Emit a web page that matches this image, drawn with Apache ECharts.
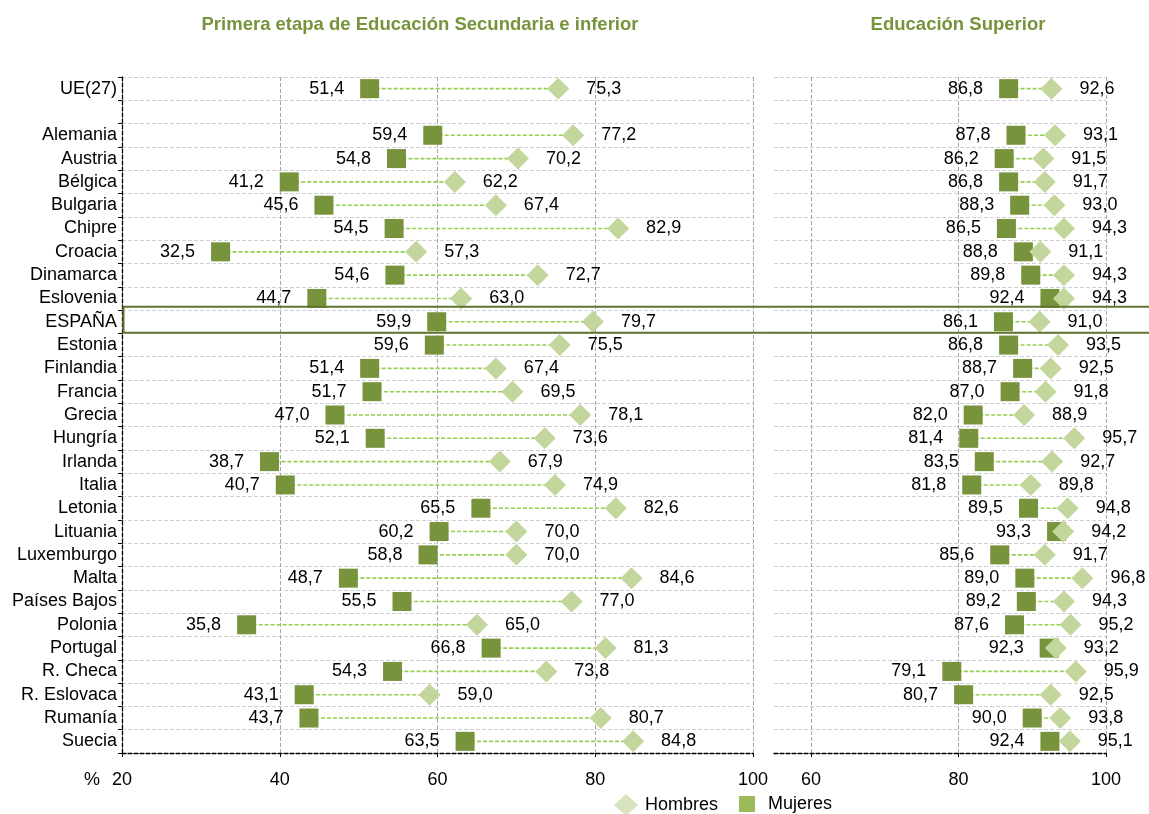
<!DOCTYPE html>
<html><head><meta charset="utf-8">
<script src="https://cdn.jsdelivr.net/npm/echarts@6/dist/echarts.min.js"></script>
<style>html,body{margin:0;padding:0;background:#fff}#c{width:1149px;height:814px}</style>
</head><body><div id="c"></div>
<script>
const categories = ['UE(27)', '', 'Alemania', 'Austria', 'Bélgica', 'Bulgaria', 'Chipre', 'Croacia', 'Dinamarca', 'Eslovenia', 'ESPAÑA', 'Estonia', 'Finlandia', 'Francia', 'Grecia', 'Hungría', 'Irlanda', 'Italia', 'Letonia', 'Lituania', 'Luxemburgo', 'Malta', 'Países Bajos', 'Polonia', 'Portugal', 'R. Checa', 'R. Eslovaca', 'Rumanía', 'Suecia'];
const basicMujeres = [51.4, null, 59.4, 54.8, 41.2, 45.6, 54.5, 32.5, 54.6, 44.7, 59.9, 59.6, 51.4, 51.7, 47.0, 52.1, 38.7, 40.7, 65.5, 60.2, 58.8, 48.7, 55.5, 35.8, 66.8, 54.3, 43.1, 43.7, 63.5];
const basicHombres = [75.3, null, 77.2, 70.2, 62.2, 67.4, 82.9, 57.3, 72.7, 63.0, 79.7, 75.5, 67.4, 69.5, 78.1, 73.6, 67.9, 74.9, 82.6, 70.0, 70.0, 84.6, 77.0, 65.0, 81.3, 73.8, 59.0, 80.7, 84.8];
const superiorMujeres = [86.8, null, 87.8, 86.2, 86.8, 88.3, 86.5, 88.8, 89.8, 92.4, 86.1, 86.8, 88.7, 87.0, 82.0, 81.4, 83.5, 81.8, 89.5, 93.3, 85.6, 89.0, 89.2, 87.6, 92.3, 79.1, 80.7, 90.0, 92.4];
const superiorHombres = [92.6, null, 93.1, 91.5, 91.7, 93.0, 94.3, 91.1, 94.3, 94.3, 91.0, 93.5, 92.5, 91.8, 88.9, 95.7, 92.7, 89.8, 94.8, 94.2, 91.7, 96.8, 94.3, 95.2, 93.2, 95.9, 92.5, 93.8, 95.1];
const leftTicks = [20, 40, 60, 80, 100];
const rightTicks = [60, 80, 100];
const titles = ['Primera etapa de Educación Secundaria e inferior', 'Educación Superior'];
const highlight = 'ESPAÑA';

const FONT = 'Arial, "Liberation Sans", sans-serif';
const cMuj = '#77933C', cHom = '#C3D69B', cLine = '#92D050';
const fmt = v => v.toFixed(1).replace('.', ',');

function pts(arr) { const out = []; arr.forEach((v, i) => { if (v != null) out.push([v, i]); }); return out; }
function pairs(a, b) { const out = []; a.forEach((v, i) => { if (v != null) out.push([v, b[i], i]); }); return out; }

const chart = echarts.init(document.getElementById('c'), null, {renderer: 'canvas'});

function seriesFor(idx, muj, hom, gridVals) {
  return [{
    type: 'custom', xAxisIndex: idx, yAxisIndex: idx, z: 1, silent: true,
    data: pairs(muj, hom),
    renderItem: (params, api) => {
      const p1 = api.coord([api.value(0), api.value(2)]);
      const p2 = api.coord([api.value(1), api.value(2)]);
      return {type: 'line', shape: {x1: p1[0], y1: p1[1], x2: p2[0], y2: p2[1]},
        style: {stroke: cLine, lineWidth: 1.6, lineDash: [4, 2]}};
    }
  }, {
    name: 'Mujeres', type: 'scatter', xAxisIndex: idx, yAxisIndex: idx, z: 3,
    symbol: 'rect', symbolSize: 19, itemStyle: {color: cMuj, opacity: 1},
    data: pts(muj),
    label: {show: true, position: 'left', distance: 16, color: '#000', fontSize: 18, fontFamily: FONT,
      formatter: p => fmt(p.value[0])}
  }, {
    name: 'Hombres', type: 'scatter', xAxisIndex: idx, yAxisIndex: idx, z: 4,
    symbol: 'diamond', symbolSize: 22, itemStyle: {color: cHom, opacity: 1},
    data: pts(hom),
    label: {show: true, position: 'right', distance: 17, color: '#000', fontSize: 18, fontFamily: FONT,
      formatter: p => fmt(p.value[0])},
    markLine: gridVals ? {
      silent: true, symbol: 'none', label: {show: false}, z: 0,
      lineStyle: {color: '#a6a6a6', type: [4, 2], width: 1},
      data: gridVals.map(v => ({xAxis: v}))
    } : undefined
  }];
}

const yBase = {
  type: 'category', data: categories, inverse: true, boundaryGap: true,
  splitLine: {show: true, interval: 0, lineStyle: {color: '#d0d0d0', type: [4, 2], width: 1}}
};

const option = {
  animation: false,
  textStyle: {fontFamily: FONT},
  title: [
    {text: titles[0], left: 415, top: 10, textAlign: 'center',
      textStyle: {color: '#77933C', fontSize: 18.5, fontWeight: 'bold', fontFamily: FONT}},
    {text: titles[1], left: 953, top: 10, textAlign: 'center',
      textStyle: {color: '#77933C', fontSize: 18.5, fontWeight: 'bold', fontFamily: FONT}}
  ],
  legend: [
    {data: [{name: 'Hombres', icon: 'diamond', itemStyle: {color: '#D7E4BD'}}], left: 609, top: 789,
      itemWidth: 24, itemHeight: 22, selectedMode: false,
      textStyle: {fontSize: 18, color: '#000', fontFamily: FONT, padding: [0, 0, 0, 2]}},
    {data: [{name: 'Mujeres', icon: 'rect', itemStyle: {color: '#9BBB59'}}], left: 734, top: 790,
      itemWidth: 16, itemHeight: 16, selectedMode: false,
      textStyle: {fontSize: 18, color: '#000', fontFamily: FONT, padding: [0, 0, 0, 8]}}
  ],
  grid: [
    {left: 122, right: 1149 - 753, top: 77, height: 676},
    {left: 774, right: 1149 - 1106, top: 77, height: 676}
  ],
  xAxis: [
    {gridIndex: 0, type: 'value', min: leftTicks[0], max: leftTicks[leftTicks.length - 1], interval: 20,
      axisLine: {show: true, lineStyle: {color: '#000', type: [4, 2], width: 1.3}},
      axisTick: {show: true, length: 4, lineStyle: {color: '#000'}},
      axisLabel: {fontSize: 18, color: '#000', margin: 18, fontFamily: FONT},
      splitLine: {show: true, lineStyle: {color: '#a6a6a6', type: [4, 2], width: 1}}},
    {gridIndex: 1, type: 'value', min: 55, max: 100, interval: 5,
      axisLine: {show: true, lineStyle: {color: '#000', type: [4, 2], width: 1.3}},
      axisTick: {show: true, length: 4, lineStyle: {color: '#000'}, customValues: rightTicks},
      axisLabel: {fontSize: 18, color: '#000', margin: 18, fontFamily: FONT, customValues: rightTicks},
      splitLine: {show: false}}
  ],
  yAxis: [
    Object.assign({}, yBase, {gridIndex: 0,
      axisLine: {show: true, lineStyle: {color: '#000', type: [4, 2], width: 1.3}},
      axisTick: {show: true, interval: 0, length: 4, lineStyle: {color: '#000'}},
      axisLabel: {interval: 0, fontSize: 18, color: '#000', margin: 5, fontFamily: FONT}}),
    Object.assign({}, yBase, {gridIndex: 1,
      axisLine: {show: false}, axisTick: {show: false}, axisLabel: {show: false}})
  ],
  series: [].concat(seriesFor(0, basicMujeres, basicHombres, null), seriesFor(1, superiorMujeres, superiorHombres, rightTicks))
};
chart.setOption(option);

const hi = categories.indexOf(highlight);
const cy = chart.convertToPixel({yAxisIndex: 0}, categories[hi]);
const x0 = chart.convertToPixel({xAxisIndex: 0}, leftTicks[0]);
chart.setOption({
  graphic: [
    {type: 'rect', z: 10, silent: true, shape: {x: x0 + 1.5, y: cy - 15, width: 1149 - x0 + 5, height: 26},
      style: {fill: null, stroke: '#5F7530', lineWidth: 2}},
    {type: 'text', z: 10, silent: true, left: 84, top: 771,
      style: {text: '%', fill: '#000', font: '18px ' + FONT}}
  ]
});
</script>
</body></html>
